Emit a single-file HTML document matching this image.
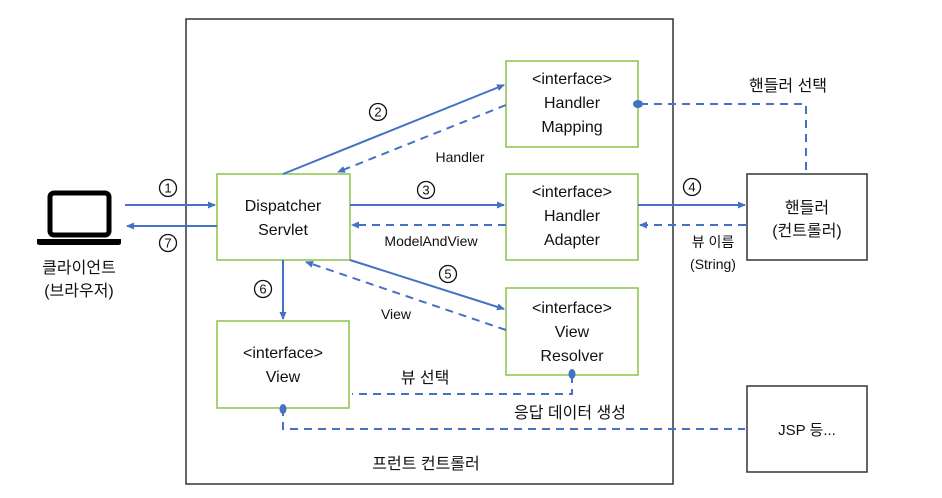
<!DOCTYPE html>
<html><head><meta charset="utf-8"><style>
html,body{margin:0;padding:0;background:#fff;}
svg{display:block}
text{font-family:"Liberation Sans","Noto Sans CJK KR",sans-serif;fill:#111;text-anchor:middle;}
</style></head><body>
<svg width="942" height="498" viewBox="0 0 942 498" xmlns="http://www.w3.org/2000/svg">
<defs>
<marker id="a" markerWidth="8" markerHeight="8" refX="7" refY="4" orient="auto" markerUnits="userSpaceOnUse"><path d="M0,0.5 L8,4 L0,7.5 z" fill="#4472c4"/></marker>
</defs>
<rect x="186" y="19" width="487" height="465" fill="#fff" stroke="#333" stroke-width="1.5"/>
<g fill="#fff" stroke="#8bc34a" stroke-width="1.5">
<rect x="506" y="61" width="132" height="86"/>
<rect x="217" y="174" width="133" height="86"/>
<rect x="506" y="174" width="132" height="86"/>
<rect x="506" y="288" width="132" height="87"/>
<rect x="217" y="321" width="132" height="87"/>
</g>
<g fill="#fff" stroke="#333" stroke-width="1.5">
<rect x="747" y="174" width="120" height="86"/>
<rect x="747" y="386" width="120" height="86"/>
</g>
<!-- laptop -->
<rect x="50" y="193" width="59" height="42" rx="4" fill="none" stroke="#000" stroke-width="5"/>
<path d="M37,239 H121 V243 Q121,245 118,245 H40 Q37,245 37,243 Z" fill="#000"/>
<g stroke="#4472c4" stroke-width="2" fill="none">
<line x1="125" y1="205" x2="215" y2="205" marker-end="url(#a)"/>
<line x1="217" y1="226" x2="127" y2="226" marker-end="url(#a)"/>
<line x1="283" y1="174" x2="504" y2="85" marker-end="url(#a)"/>
<line x1="350" y1="205" x2="504" y2="205" marker-end="url(#a)"/>
<line x1="638" y1="205" x2="745" y2="205" marker-end="url(#a)"/>
<line x1="350" y1="260" x2="504" y2="309" marker-end="url(#a)"/>
<line x1="283" y1="260" x2="283" y2="319" marker-end="url(#a)"/>
</g>
<g stroke="#4472c4" stroke-width="2" fill="none" stroke-dasharray="8,6">
<line x1="506" y1="105" x2="338" y2="172" marker-end="url(#a)"/>
<line x1="506" y1="225" x2="352" y2="225" marker-end="url(#a)"/>
<line x1="746" y1="225" x2="640" y2="225" marker-end="url(#a)"/>
<line x1="506" y1="330" x2="306" y2="262" marker-end="url(#a)"/>
<polyline points="640,104 806,104 806,174"/>
<polyline points="572,375 572,394 352,394"/>
<polyline points="283,408 283,429 745,429"/>
</g>
<g fill="#4472c4">
<ellipse cx="638" cy="104" rx="5" ry="4"/>
<ellipse cx="572" cy="374" rx="3.5" ry="5"/>
<ellipse cx="283" cy="409" rx="3.5" ry="5"/>
</g>
<g font-size="16">
<text x="572" y="84">&lt;interface&gt;</text><text x="572" y="108">Handler</text><text x="572" y="132">Mapping</text>
<text x="283" y="211">Dispatcher</text><text x="283" y="235">Servlet</text>
<text x="572" y="197">&lt;interface&gt;</text><text x="572" y="221">Handler</text><text x="572" y="245">Adapter</text>
<text x="572" y="313">&lt;interface&gt;</text><text x="572" y="337">View</text><text x="572" y="361">Resolver</text>
<text x="283" y="358">&lt;interface&gt;</text><text x="283" y="382">View</text>
<text x="807" y="213">핸들러</text><text x="807" y="236">(컨트롤러)</text>
<text x="807" y="435" font-size="15">JSP 등...</text>
<text x="79" y="273">클라이언트</text><text x="79" y="296">(브라우저)</text>
<text x="788" y="91">핸들러 선택</text>
<text x="425" y="383">뷰 선택</text>
<text x="570" y="418">응답 데이터 생성</text>
<text x="426" y="469">프런트 컨트롤러</text>
</g>
<g fill="none" stroke="#111" stroke-width="1.3">
<circle cx="168" cy="188" r="8.5"/><circle cx="168" cy="243" r="8.5"/>
<circle cx="378" cy="112" r="8.5"/><circle cx="426" cy="190" r="8.5"/>
<circle cx="692" cy="187" r="8.5"/><circle cx="448" cy="274" r="8.5"/>
<circle cx="263" cy="289" r="8.5"/>
</g>
<g font-size="13">
<text x="168" y="192.5">1</text><text x="168" y="247.5">7</text>
<text x="378" y="116.5">2</text><text x="426" y="194.5">3</text>
<text x="692" y="191.5">4</text><text x="448" y="278.5">5</text>
<text x="263" y="293.5">6</text>
</g>
<g font-size="14">
<text x="460" y="162">Handler</text>
<text x="431" y="246">ModelAndView</text>
<text x="396" y="319">View</text>
<text x="713" y="247">뷰 이름</text>
<text x="713" y="269">(String)</text>
</g>
</svg>
</body></html>
